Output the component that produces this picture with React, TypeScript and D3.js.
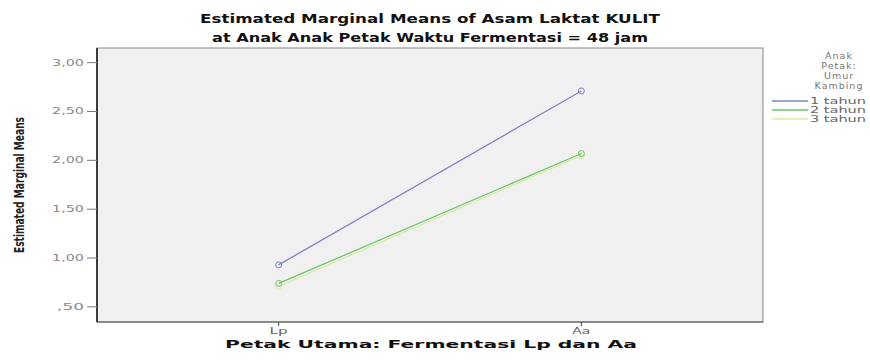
import React from "react";
import * as d3 from "d3";

const categories = ["Lp", "Aa"];
const seriesNames = ["1 tahun", "2 tahun", "3 tahun"];
const seriesColors = ["#7f83c6", "#72c472", "#d9eba6"];
const values1 = [0.93, 2.71];
const values2 = [0.74, 2.07];
const values3 = [0.71, 2.05];
const yTicks = [0.5, 1.0, 1.5, 2.0, 2.5, 3.0];
const legendTitle = ["Anak", "Petak:", "Umur", "Kambing"];

const width = 870;
const height = 361;
const margin = { top: 48, right: 107, bottom: 39, left: 97 };

const App = () => {
  const x = d3
    .scalePoint()
    .domain(categories)
    .range([margin.left, width - margin.right])
    .padding(0.6);

  const y = d3
    .scaleLinear()
    .domain([0.345, 3.15])
    .range([height - margin.bottom, margin.top]);

  const series = [values1, values2, values3];
  const line = d3
    .line<number>()
    .x((d, i) => x(categories[i]) as number)
    .y((d) => y(d));

  const fmt = (v: number) => {
    const s = v.toFixed(2).replace(".", ",");
    return s.startsWith("0") ? s.slice(1) : s;
  };

  const plotW = width - margin.left - margin.right;
  const plotH = height - margin.top - margin.bottom;

  return (
    <svg
      width={width}
      height={height}
      style={{ position: "absolute", left: 0, top: 0, background: "white" }}
      fontFamily="'DejaVu Sans', Arial, sans-serif"
    >
      <text x={430} y={23} textAnchor="middle" fontSize={12.5} fontWeight="bold" fill="#111" textLength={460} lengthAdjust="spacingAndGlyphs">
        Estimated Marginal Means of Asam Laktat KULIT
      </text>
      <text x={430} y={42} textAnchor="middle" fontSize={12.5} fontWeight="bold" fill="#111" textLength={436} lengthAdjust="spacingAndGlyphs">
        at Anak Anak Petak Waktu Fermentasi = 48 jam
      </text>

      <rect x={margin.left} y={margin.top} width={plotW} height={plotH} fill="#f0f0f0" stroke="#888" strokeWidth={1} />
      <line x1={margin.left} x2={margin.left} y1={margin.top} y2={margin.top + plotH} stroke="#111" strokeWidth={1.5} />
      <line x1={margin.left} x2={margin.left + plotW} y1={margin.top + plotH} y2={margin.top + plotH} stroke="#555" strokeWidth={1} />

      {yTicks.map((t) => {
        const label = fmt(t);
        return (
          <g key={t}>
            <line x1={margin.left - 10} x2={margin.left} y1={y(t)} y2={y(t)} stroke="#777" />
            <text
              x={margin.left - 13}
              y={y(t) + 3}
              textAnchor="end"
              fontSize={8.5}
              fill="#8a8a8a"
              textLength={label.length === 4 ? 32 : 27}
              lengthAdjust="spacingAndGlyphs"
            >
              {label}
            </text>
          </g>
        );
      })}

      {categories.map((c) => (
        <g key={c}>
          <line x1={x(c)} x2={x(c)} y1={margin.top + plotH} y2={margin.top + plotH + 4} stroke="#444" />
          <text x={x(c)} y={334} textAnchor="middle" fontSize={8.5} fill="#666" textLength={18} lengthAdjust="spacingAndGlyphs">
            {c}
          </text>
        </g>
      ))}

      <text x={431} y={348} textAnchor="middle" fontSize={10.5} fontWeight="bold" fill="#111" textLength={412} lengthAdjust="spacingAndGlyphs">
        Petak Utama: Fermentasi Lp dan Aa
      </text>

      <text
        transform={`translate(24, 185) rotate(-90)`}
        textAnchor="middle"
        fontSize={14.5}
        fontWeight="bold"
        fill="#222"
        fontFamily="'Liberation Sans Narrow', 'DejaVu Sans Condensed', sans-serif"
        textLength={136}
        lengthAdjust="spacingAndGlyphs"
      >
        Estimated Marginal Means
      </text>

      {series
        .map((vals, si) => ({ vals, si }))
        .reverse()
        .map(({ vals, si }) => (
          <g key={si}>
            <path d={line(vals) as string} fill="none" stroke={seriesColors[si]} strokeWidth={1.3} />
            {vals.map((v, i) => (
              <circle key={i} cx={x(categories[i])} cy={y(v)} r={3} fill="none" stroke={seriesColors[si]} strokeWidth={1} />
            ))}
          </g>
        ))}

      {legendTitle.map((t, i) => (
        <text key={t} x={839} y={59 + i * 10} textAnchor="middle" fontSize={9.5} fill="#777" letterSpacing={1}>
          {t}
        </text>
      ))}
      {seriesNames.map((n, i) => (
        <g key={n}>
          <line x1={772} x2={808} y1={101 + i * 9} y2={101 + i * 9} stroke={seriesColors[i]} strokeWidth={1.5} />
          <text x={810} y={104 + i * 9} fontSize={9} fill="#666" textLength={56} lengthAdjust="spacingAndGlyphs">
            {n}
          </text>
        </g>
      ))}
    </svg>
  );
};

export default App;
